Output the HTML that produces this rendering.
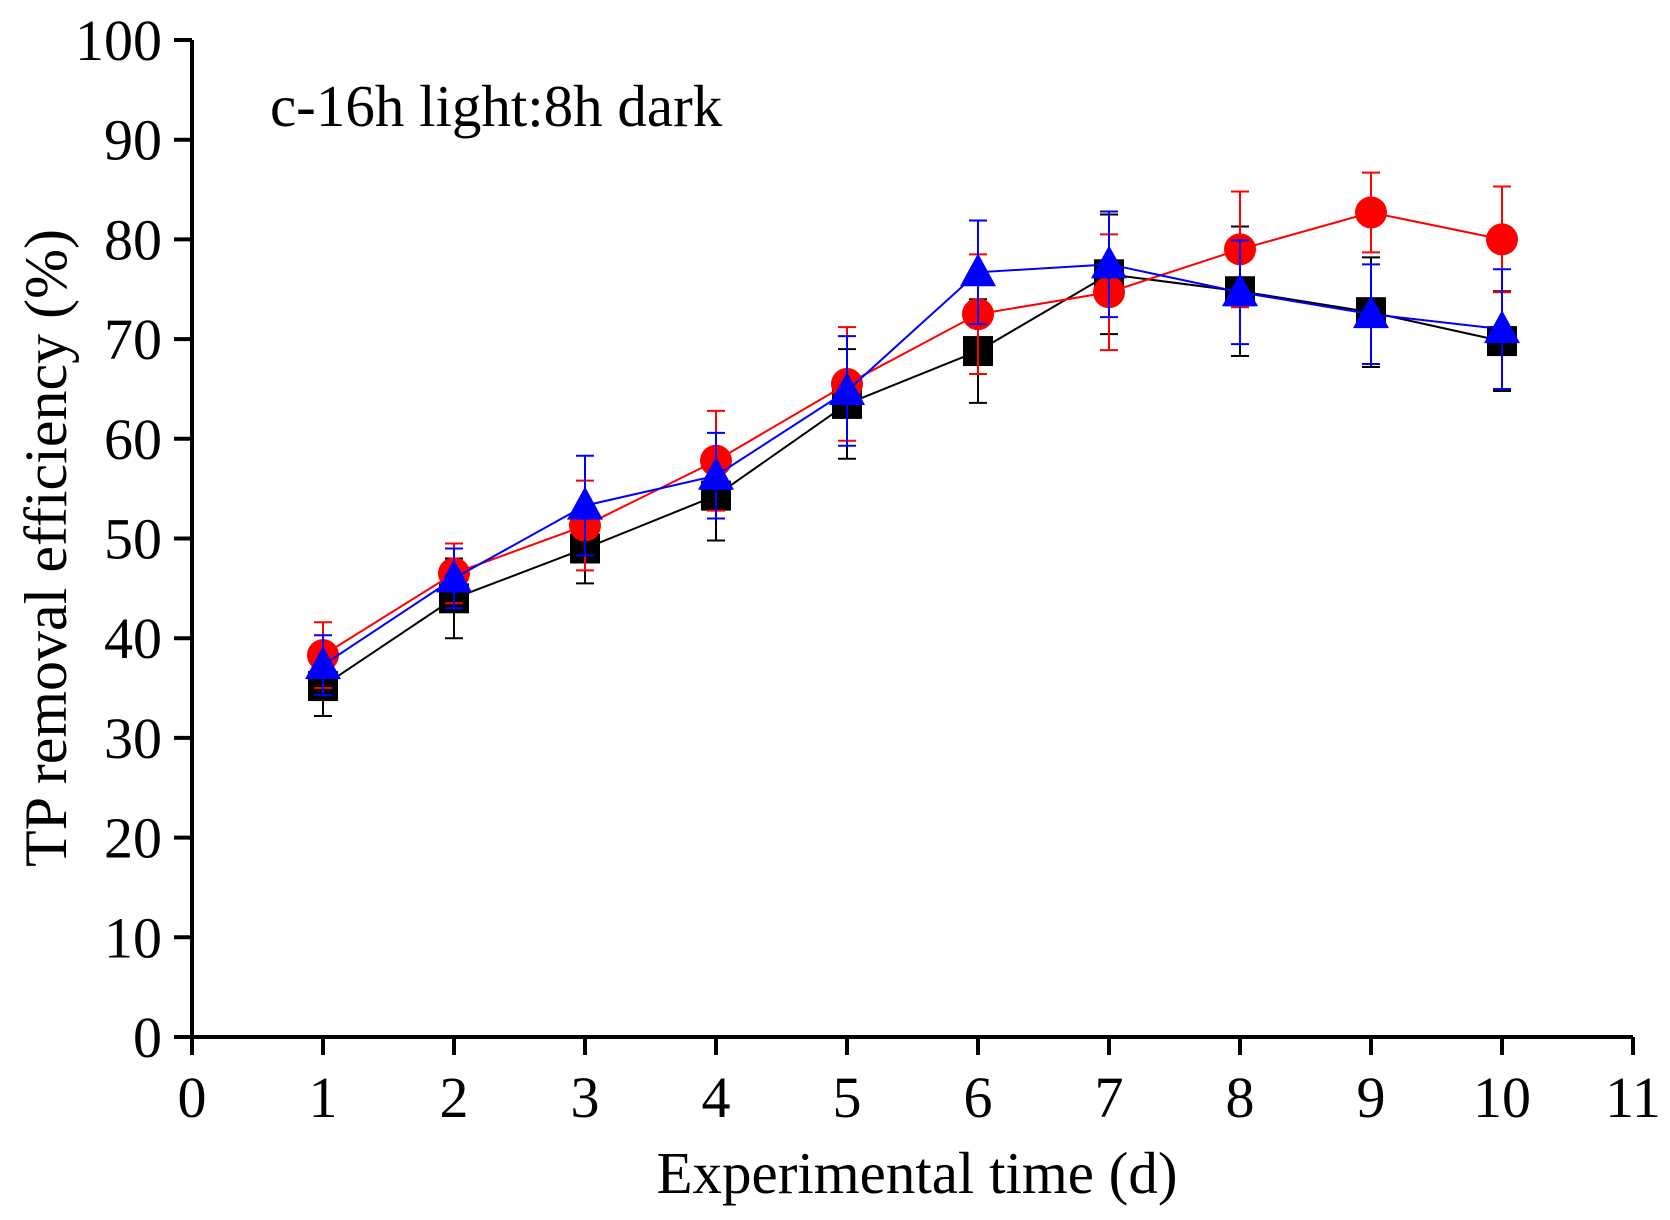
<!DOCTYPE html>
<html><head><meta charset="utf-8"><style>
html,body{margin:0;padding:0;background:#fff;}
svg text{font-family:"Liberation Serif",serif;fill:#000;}
</style></head><body>
<svg id="chart" width="1670" height="1215" viewBox="0 0 1670 1215" xmlns="http://www.w3.org/2000/svg">
<g id="axes"></g>
<g id="series"></g>
<text x="270" y="126" font-size="59">c-16h light:8h dark</text>
<text x="917" y="1193" font-size="59" text-anchor="middle">Experimental time (d)</text>
<text transform="translate(66,548) rotate(-90)" font-size="60" text-anchor="middle">TP removal efficiency (%)</text>
</svg>
<script>
const days=[1,2,3,4,5,6,7,8,9,10];
const blackVals=[35.2,44,49,54.3,63.5,68.8,76.5,74.8,72.7,69.8];
const blackErr=[3,4,3.5,4.5,5.5,5.2,6,6.5,5.5,5];
const redVals=[38.3,46.5,51.3,57.8,65.5,72.5,74.7,79,82.7,80];
const redErr=[3.3,3,4.5,5,5.7,6,5.8,5.8,4,5.3];
const blueVals=[37.3,46,53.3,56.3,64.8,76.7,77.5,74.7,72.5,71];
const blueErr=[3,3,5,4.3,5.5,5.2,5.3,5.2,5,6];
const xTicks=[0,1,2,3,4,5,6,7,8,9,10,11];
const yTicks=[0,10,20,30,40,50,60,70,80,90,100];

const NS="http://www.w3.org/2000/svg";
const X0=192,X1=1633,Y0=1037,Y1=40;
const xs=v=>X0+(X1-X0)*v/11;
const ys=v=>Y0-(Y0-Y1)*v/100;
function mk(tag,attrs,parent){const e=document.createElementNS(NS,tag);for(const k in attrs)e.setAttribute(k,attrs[k]);parent.appendChild(e);return e;}
const axes=document.getElementById('axes');
let l=mk('line',{x1:X0,y1:Y0,x2:X1,y2:Y0,stroke:'#000','stroke-width':4},axes);


l=mk('line',{x1:X0,y1:Y0,x2:X0,y2:Y1,stroke:'#000','stroke-width':4},axes);


xTicks.forEach(t=>{
  const tk=mk('line',{x1:xs(t),y1:Y0,x2:xs(t),y2:Y0+18,stroke:'#000','stroke-width':4},axes);
  
  
  const tx=mk('text',{x:xs(t),y:Y0+80,'font-size':58,'text-anchor':'middle'},axes);
  tx.textContent=t;
  
  
});
yTicks.forEach(t=>{
  const tk=mk('line',{x1:X0-18,y1:ys(t),x2:X0,y2:ys(t),stroke:'#000','stroke-width':4},axes);
  
  
  const tx=mk('text',{x:X0-30,y:ys(t)+20,'font-size':58,'text-anchor':'end'},axes);
  tx.textContent=t;
  
  
});
const ser=document.getElementById('series');
function drawSeries(vals,errs,color,shape,name){
  const g=mk('g',{},ser);
  
  
  const pts=days.map((d,i)=>xs(d)+','+ys(vals[i])).join(' ');
  const pl=mk('polyline',{points:pts,fill:'none',stroke:color,'stroke-width':2},g);
  
  
  days.forEach((d,i)=>{
    const x=xs(d),y=ys(vals[i]),yt=ys(vals[i]+errs[i]),yb=ys(vals[i]-errs[i]);
    const eb=mk('path',{d:`M${x},${yt}V${yb}M${x-9},${yt}H${x+9}M${x-9},${yb}H${x+9}`,stroke:color,'stroke-width':2,fill:'none'},g);
    
    
    let m;
    if(shape==='square') m=mk('rect',{x:x-15,y:y-15,width:30,height:30,fill:color},g);
    else if(shape==='circle') m=mk('circle',{cx:x,cy:y,r:16,fill:color},g);
    else m=mk('polygon',{points:`${x},${y-19} ${x-18},${y+14} ${x+18},${y+14}`,fill:color},g);
    
    
  });
}
drawSeries(blackVals,blackErr,'#000','square','black');
drawSeries(redVals,redErr,'#f00','circle','red');
drawSeries(blueVals,blueErr,'#00f','triangle','blue');
</script>
</body></html>
